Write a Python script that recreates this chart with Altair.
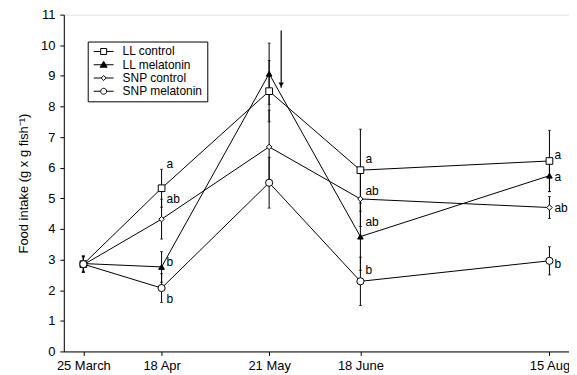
import altair as alt
import pandas as pd

# ---- data ----
date_labels = ["25 March", "18 Apr", "21 May", "18 June", "15 Aug"]
date_days = [0, 24, 57, 85, 143]  # days since 25 March

series = ["LL control", "LL melatonin", "SNP control", "SNP melatonin"]
ll_control = [2.85, 5.33, 8.50, 5.92, 6.22]
ll_control_err = [0.25, 0.62, 1.00, 1.34, 1.00]
ll_melatonin = [2.87, 2.76, 9.07, 3.75, 5.74]
ll_melatonin_err = [0.25, 0.50, 1.00, 1.10, 0.52]
snp_control = [2.83, 4.32, 6.68, 4.98, 4.70]
snp_control_err = [0.25, 0.65, 1.20, 0.90, 0.36]
snp_melatonin = [2.85, 2.07, 5.51, 2.29, 2.96]
snp_melatonin_err = [0.27, 0.47, 0.83, 0.79, 0.46]

letter_days = [24, 24, 24, 24, 85, 85, 85, 85, 143, 143, 143, 143]
letter_values = [6.11, 4.97, 2.92, 1.71, 6.30, 5.25, 4.22, 2.67, 6.43, 5.70, 4.68, 2.85]
letter_text = ["a", "ab", "b", "b", "a", "ab", "ab", "b", "a", "a", "ab", "b"]

arrow_day = [60.7]
arrow_top = [10.48]
arrow_tip = [8.61]

y_ticks = list(range(0, 12))

# ---- build table ----
vals = [ll_control, ll_melatonin, snp_control, snp_melatonin]
errs = [ll_control_err, ll_melatonin_err, snp_control_err, snp_melatonin_err]
rows = []
for s, v, e in zip(series, vals, errs):
    for d, vv, ee in zip(date_days, v, e):
        rows.append({"series": s, "day": d, "value": vv, "lo": vv - ee, "hi": vv + ee})
df = pd.DataFrame(rows)

letters_df = pd.DataFrame({"day": letter_days, "value": letter_values, "text": letter_text})
arrow_df = pd.DataFrame({"day": arrow_day, "top": arrow_top, "tip": arrow_tip})

FONT = "Liberation Sans"

label_expr = " : ".join(
    f"datum.value == {d} ? '{l}'" for d, l in zip(date_days, date_labels)
) + " : ''"

x_axis = alt.Axis(values=date_days, labelExpr=label_expr, title=None, tickSize=4,
                  labelPadding=4, labelFontSize=13, labelFont=FONT, labelColor="black",
                  domainColor="black", tickColor="black", grid=False, labelFlush=False,
                  labelOverlap=False)
y_axis = alt.Axis(values=y_ticks, title="Food intake (g x g fish⁻¹)", tickSize=4,
                  labelPadding=5, labelFontSize=13, labelFont=FONT, labelColor="black",
                  titleFont=FONT, titleFontSize=13, titleFontWeight="normal",
                  titleColor="black", titlePadding=10, labelOverlap=False, labelFlush=False,
                  domainColor="black", tickColor="black", grid=False)
x_scale = alt.Scale(domain=[-6, 149], nice=False, zero=False)
y_scale = alt.Scale(domain=[0, 11], nice=False, zero=False)


def X(field):
    return alt.X(f"{field}:Q", scale=x_scale, axis=x_axis)


def Y(field):
    return alt.Y(f"{field}:Q", scale=y_scale, axis=y_axis)


base = alt.Chart(df)

lines = base.mark_line(color="black", strokeWidth=1).encode(
    x=X("day"), y=Y("value"), detail="series:N"
)
errbars = base.mark_rule(color="black", strokeWidth=1).encode(
    x=X("day"), y=Y("lo"), y2="hi:Q"
)
caps_lo = base.mark_tick(orient="horizontal", size=3, thickness=1, color="black").encode(
    x=X("day"), y=Y("lo")
)
caps_hi = base.mark_tick(orient="horizontal", size=3, thickness=1, color="black").encode(
    x=X("day"), y=Y("hi")
)

shapes_plot = ["square", "triangle-up", "diamond", "circle"]
fills_plot = ["white", "black", "white", "white"]
sizes_plot = [45, 32, 30, 52]
point_layers = []
for s, sh, fi, sz in zip(series, shapes_plot, fills_plot, sizes_plot):
    point_layers.append(
        base.transform_filter(alt.datum.series == s)
        .mark_point(shape=sh, size=sz, fill=fi, stroke="black", strokeWidth=1, opacity=1, filled=True)
        .encode(x=X("day"), y=Y("value"))
    )

letters = alt.Chart(letters_df).mark_text(
    align="left", baseline="middle", dx=5, fontSize=12, font=FONT
).encode(x=X("day"), y=Y("value"), text="text:N", fill=alt.value("black"))

arrow_rule = alt.Chart(arrow_df).mark_rule(color="black", strokeWidth=1.2).encode(
    x=X("day"), y=Y("top"), y2="tip:Q"
)
arrow_head = alt.Chart(arrow_df).mark_point(
    shape="triangle-down", size=28, filled=True, color="black", yOffset=-3, opacity=1
).encode(x=X("day"), y=Y("tip"))

# legend (custom symbols: line + marker)
leg_paths = [
    "M-0.8,0H0.6M1.8,0H3.2M0.6,-0.6H1.8V0.6H0.6Z",
    "M-0.8,0H3.2M1.2,-0.7L1.9,0.5L0.5,0.5Z",
    "M-0.8,0H0.7M1.7,0H3.2M1.2,-0.5L1.7,0L1.2,0.5L0.7,0Z",
    "M-0.8,0H0.6M1.8,0H3.2M1.8,0A0.6,0.6,0,1,1,0.6,0A0.6,0.6,0,1,1,1.8,0Z",
]
leg_fills = ["white", "black", "white", "white"]
leg_strokes = ["black", "black", "black", "black"]
leg_df = pd.DataFrame({"series": series})
legend_def = alt.Legend(
    title=None, orient="none", legendX=24, legendY=27, padding=4,
    fillColor="white", strokeColor="black", symbolSize=100, symbolStrokeWidth=1,
    symbolStrokeColor="black", labelOffset=19, labelFontSize=12, labelFont=FONT,
    labelColor="black", rowPadding=1.3, labelLimit=200,
)
legend_layer = alt.Chart(leg_df).transform_filter("false").mark_point(
    strokeWidth=1, opacity=1
).encode(
    shape=alt.Shape("series:N", scale=alt.Scale(domain=series, range=leg_paths), legend=legend_def),
    fill=alt.Fill("series:N", scale=alt.Scale(domain=series, range=leg_fills), legend=legend_def),
    stroke=alt.Stroke("series:N", scale=alt.Scale(domain=series, range=leg_strokes), legend=legend_def),
)

chart = alt.layer(
    lines, errbars, caps_lo, caps_hi, *point_layers, letters, arrow_rule, arrow_head, legend_layer
).properties(
    width=507, height=338,
    autosize=alt.AutoSizeParams(type="none"),
    padding={"left": 56, "top": 6, "right": 0, "bottom": 22},
).configure_view(stroke="black", strokeWidth=1).configure(background="white")

chart.save("out.html", embed_options={"renderer": "svg", "actions": False})
